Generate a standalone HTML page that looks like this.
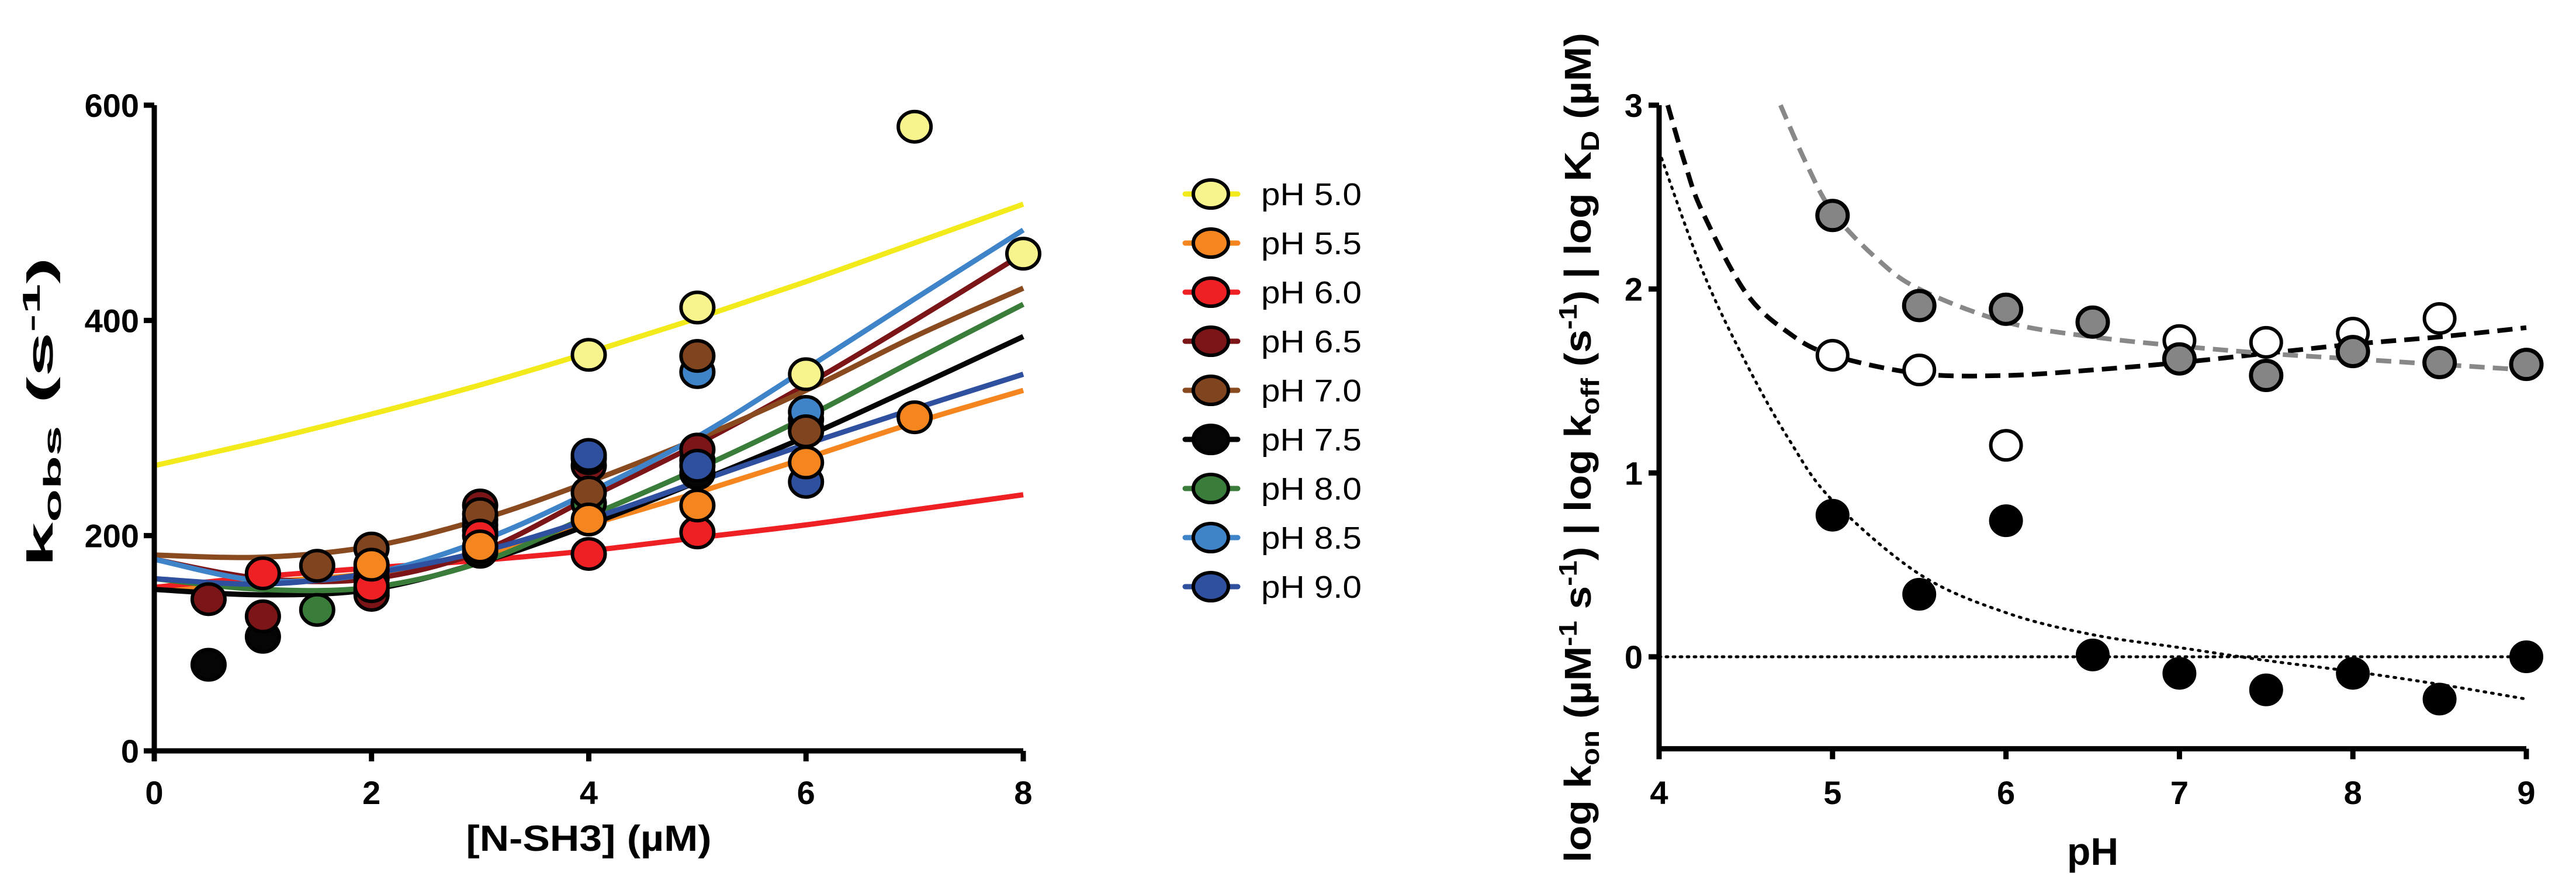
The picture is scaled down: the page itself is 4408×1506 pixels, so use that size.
<!DOCTYPE html>
<html><head><meta charset="utf-8"><style>
html,body{margin:0;padding:0;background:#fff;}
svg{display:block;font-family:"Liberation Sans",Arial,sans-serif;}
.tk{font-weight:bold;font-size:56px;}
</style></head><body>
<svg id="c" width="4408" height="1506" viewBox="0 0 4408 1506" xmlns="http://www.w3.org/2000/svg">
<g id="left"></g>
<g id="legend"></g>
<g id="right"></g>
</svg>
<script>
// ---------- Left chart data ----------
const names = ["pH 5.0","pH 5.5","pH 6.0","pH 6.5","pH 7.0","pH 7.5","pH 8.0","pH 8.5","pH 9.0"];
const lineColors = ["#f2ea1a","#f5861f","#ee2024","#7b1517","#8a4a20","#050505","#3a7d3a","#3f84c8","#2f4f9f"];
const fillColors = ["#f7f48d","#f5861f","#ee2024","#7b1517","#80441f","#050505","#3a7d3a","#3f84c8","#2f4f9f"];
const curveX = [0,1,2,3,4,5,6,7,8];
const curve50 = [265,288,313,340,370,402,436,472,508];
const curve55 = [150,157,165,182,210,240,272,305,335];
const curve60 = [152,162,170,177,186,198,210,224,238];
const curve65 = [178,160,160,185,235,285,340,400,462];
const curve70 = [182,180,190,215,250,290,335,385,430];
const curve75 = [150,145,150,175,210,250,292,338,385];
const curve80 = [160,150,152,175,218,262,310,363,415];
const curve85 = [178,158,165,195,240,292,355,420,484];
const curve90 = [160,155,165,185,215,250,285,318,350];
const curves = [curve50,curve55,curve60,curve65,curve70,curve75,curve80,curve85,curve90];
const pts50x=[4,5,6,7,8], pts50y=[368,412,350,580,462];
const pts55x=[2,3,4,5,6,7], pts55y=[173,190,215,228,268,310];
const pts60x=[1,2,3,4,5], pts60y=[165,153,200,183,203];
const pts65x=[0.5,1,2,3,4,5], pts65y=[141,125,145,228,265,280];
const pts70x=[1.5,2,3,4,5,6], pts70y=[172,188,220,240,367,297];
const pts75x=[0.5,1,2,3,4,5,6], pts75y=[80,106,148,185,230,258,300];
const pts80x=[1.5,2,3,4,5,6], pts80y=[131,150,205,230,270,308];
const pts85x=[2,3,4,5,6], pts85y=[168,215,272,352,315];
const pts90x=[2,3,4,5,6], pts90y=[160,210,275,265,250];
const ptsX=[pts50x,pts55x,pts60x,pts65x,pts70x,pts75x,pts80x,pts85x,pts90x];
const ptsY=[pts50y,pts55y,pts60y,pts65y,pts70y,pts75y,pts80y,pts85y,pts90y];
const lxTicks=[0,2,4,6,8], lyTicks=[0,200,400,600];

// ---------- Right chart data ----------
const grayX=[5,5.5,6,6.5,7,7.5,8,8.5,9], grayY=[2.4,1.91,1.89,1.82,1.62,1.53,1.66,1.6,1.59];
const openX=[5,5.5,6,7,7.5,8,8.5], openY=[1.64,1.56,1.15,1.72,1.71,1.76,1.84];
const blackX=[5,5.5,6,6.5,7,7.5,8,8.5,9], blackY=[0.77,0.34,0.74,0.01,-0.09,-0.18,-0.09,-0.23,0];
const grayCurveX=[4.7,4.85,5,5.25,5.5,6,6.5,7,7.5,8,8.5,9], grayCurveY=[3.0,2.68,2.42,2.17,2.0,1.82,1.74,1.69,1.65,1.62,1.59,1.56];
const dashCurveX=[4.05,4.15,4.25,4.5,4.75,5,5.5,6,6.5,7,7.5,8,8.5,9], dashCurveY=[3.0,2.68,2.42,1.98,1.76,1.64,1.54,1.53,1.56,1.6,1.65,1.7,1.74,1.79];
const dotCurveX=[4,4.25,4.5,4.75,5,5.5,6,6.5,7,7.5,8,8.5,9], dotCurveY=[2.75,2.1,1.6,1.18,0.85,0.45,0.24,0.12,0.05,-0.02,-0.08,-0.15,-0.23];
const rxTicks=[4,5,6,7,8,9], ryTicks=[0,1,2,3];

const NS="http://www.w3.org/2000/svg";
function mk(parent,tag,attrs,text){const e=document.createElementNS(NS,tag);for(const k in attrs)e.setAttribute(k,attrs[k]);if(text!==undefined)e.textContent=text;parent.appendChild(e);return e;}
function smooth(px,py){let d="M"+px[0]+","+py[0];for(let i=0;i<px.length-1;i++){const p0=i>0?i-1:i,p3=i+2<px.length?i+2:i+1;const c1x=px[i]+(px[i+1]-px[p0])/6,c1y=py[i]+(py[i+1]-py[p0])/6;const c2x=px[i+1]-(px[p3]-px[i])/6,c2y=py[i+1]-(py[p3]-py[i])/6;d+=" C"+c1x+","+c1y+" "+c2x+","+c2y+" "+px[i+1]+","+py[i+1];}return d;}

// Left axes
const L=document.getElementById('left');
const lx=v=>264+(1751-264)*v/8, ly=v=>1285-(1285-180)*v/600;
for(let s=0;s<9;s++){
  const p=mk(L,'path',{d:smooth(curveX.map(lx),curves[s].map(ly)),fill:'none',stroke:lineColors[s],'stroke-width':9});
  
  
}
const order=[5,6,3,7,8,4,2,1,0];
for(const s of order){
  for(let i=0;i<ptsX[s].length;i++){
    const c=mk(L,'ellipse',{cx:lx(ptsX[s][i]),cy:ly(ptsY[s][i]),rx:28,ry:26,fill:fillColors[s],stroke:'#000','stroke-width':6});
    
    
  }
}
let a=mk(L,'path',{d:`M${lx(0)},${ly(600)} V${ly(0)} H${lx(8)}`,fill:'none',stroke:'#000','stroke-width':9});

for(const t of lyTicks){
  mk(L,'line',{x1:lx(0)-18,x2:lx(0),y1:ly(t),y2:ly(t),stroke:'#000','stroke-width':9});
  const tx=mk(L,'text',{x:lx(0)-26,y:ly(t)+20,'text-anchor':'end',class:'tk'},t);
  
}
for(const t of lxTicks){
  mk(L,'line',{x1:lx(t),x2:lx(t),y1:ly(0),y2:ly(0)+18,stroke:'#000','stroke-width':9});
  const tx=mk(L,'text',{x:lx(t),y:1376,'text-anchor':'middle',class:'tk'},t);
  
}
let xt=mk(L,'text',{x:(lx(0)+lx(8))/2,y:1456,'text-anchor':'middle','font-weight':'bold','font-size':62,textLength:420,lengthAdjust:'spacingAndGlyphs'},'[N-SH3] (µM)');

let yt=mk(L,'text',{transform:'translate(90,705) rotate(-90)','text-anchor':'middle','font-weight':'bold','font-size':62,textLength:530,lengthAdjust:'spacingAndGlyphs'});

yt.innerHTML='k<tspan font-size="42" dy="14">obs</tspan><tspan dy="-14"> (s</tspan><tspan font-size="42" dy="-22">-1</tspan><tspan dy="22">)</tspan>';

// Legend
const G=document.getElementById('legend');
for(let s=0;s<9;s++){
  const y=332+s*84;
  const g=mk(G,'g',{});
  
  
  mk(g,'line',{x1:2028,x2:2118,y1:y,y2:y,stroke:lineColors[s],'stroke-width':9,'stroke-linecap':'round'});
  mk(g,'ellipse',{cx:2072,cy:y,rx:30,ry:24,fill:fillColors[s],stroke:'#000','stroke-width':6});
  mk(g,'text',{x:2158,y:y+19,'font-size':54,textLength:172,lengthAdjust:'spacingAndGlyphs'},names[s]);
}

// Right chart
const R=document.getElementById('right');
const rx=v=>2839+(4323-2839)*(v-4)/5, ry=v=>1124-(1124-180)*v/3;
function rpath(xs,ys,attrs,name){const p=mk(R,'path',Object.assign({d:smooth(xs.map(rx),ys.map(ry)),fill:'none'},attrs));}
let z=mk(R,'line',{x1:rx(4),x2:rx(9),y1:ry(0),y2:ry(0),stroke:'#000','stroke-width':5,'stroke-dasharray':'3 9','stroke-linecap':'round'});

rpath(dotCurveX,dotCurveY,{stroke:'#000','stroke-width':5,'stroke-dasharray':'3 10','stroke-linecap':'round'},'kon-fit-curve');
rpath(dashCurveX,dashCurveY,{stroke:'#000','stroke-width':8,'stroke-dasharray':'26 14'},'kd-fit-curve');
rpath(grayCurveX,grayCurveY,{stroke:'#888','stroke-width':8,'stroke-dasharray':'26 14'},'koff-fit-curve');
function rpts(xs,ys,fill,name,strk){for(let i=0;i<xs.length;i++){const c=mk(R,'ellipse',{cx:rx(xs[i]),cy:ry(ys[i]),rx:26,ry:25,fill:fill,stroke:'#000','stroke-width':strk});}}
rpts(openX,openY,'#fff','kd-point',6);
rpts(grayX,grayY,'#858585','koff-point',7);
rpts(blackX,blackY,'#000','kon-point',6);
let ra=mk(R,'path',{d:`M${rx(4)},${ry(3)} V${ry(-0.5)} H${rx(9)}`,fill:'none',stroke:'#000','stroke-width':9});

for(const t of ryTicks){
  mk(R,'line',{x1:rx(4)-18,x2:rx(4),y1:ry(t),y2:ry(t),stroke:'#000','stroke-width':9});
  const tx=mk(R,'text',{x:rx(4)-28,y:ry(t)+20,'text-anchor':'end',class:'tk'},t);
  
}
for(const t of rxTicks){
  mk(R,'line',{x1:rx(t),x2:rx(t),y1:ry(-0.5),y2:ry(-0.5)+18,stroke:'#000','stroke-width':9});
  const tx=mk(R,'text',{x:rx(t),y:1376,'text-anchor':'middle',class:'tk'},t);
  
}
let rxt=mk(R,'text',{x:(rx(4)+rx(9))/2,y:1480,'text-anchor':'middle','font-weight':'bold','font-size':66},'pH');

let ryt=mk(R,'text',{transform:'translate(2722,766) rotate(-90)','text-anchor':'middle','font-weight':'bold','font-size':64,textLength:1420,lengthAdjust:'spacingAndGlyphs'});

ryt.innerHTML='log k<tspan font-size="44" dy="14">on</tspan><tspan dy="-14"> (µM</tspan><tspan font-size="44" dy="-24">-1</tspan><tspan dy="24"> s</tspan><tspan font-size="44" dy="-24">-1</tspan><tspan dy="24">) | log k</tspan><tspan font-size="44" dy="14">off</tspan><tspan dy="-14"> (s</tspan><tspan font-size="44" dy="-24">-1</tspan><tspan dy="24">) | log K</tspan><tspan font-size="44" dy="14">D</tspan><tspan dy="-14"> (µM)</tspan>';
</script>
</body></html>
